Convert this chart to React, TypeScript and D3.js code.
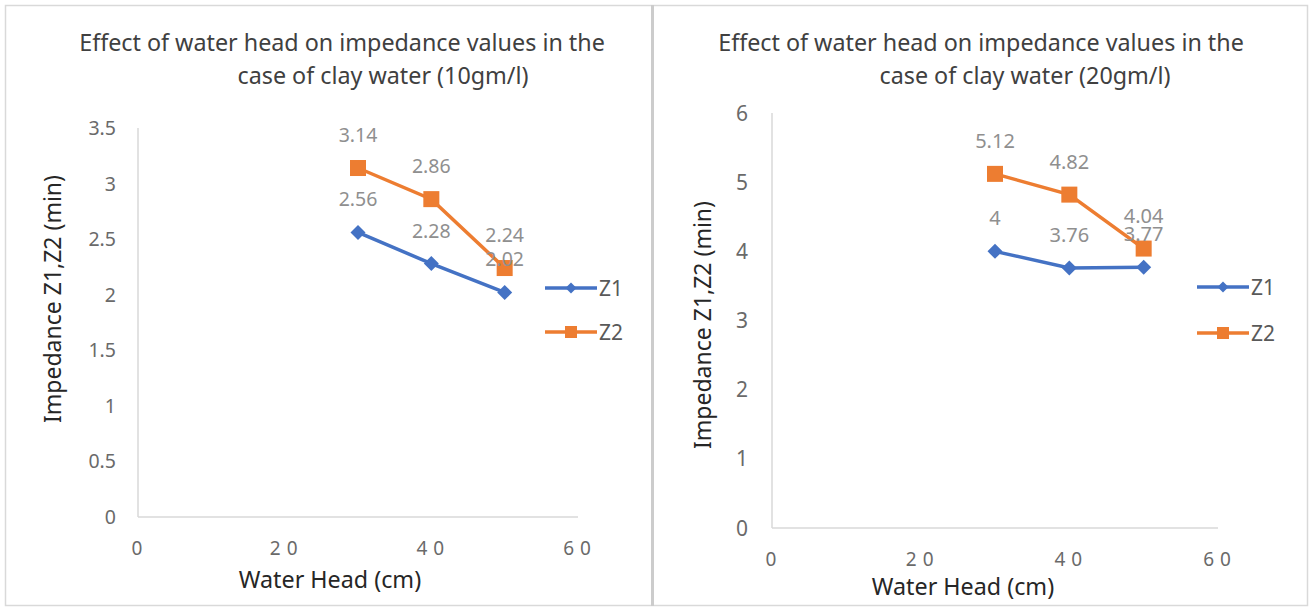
import React from "react";
import * as d3 from "d3";

const waterHead = [30, 40, 50];
const z1Clay10 = [2.56, 2.28, 2.02];
const z2Clay10 = [3.14, 2.86, 2.24];
const z1Clay20 = [4, 3.76, 3.77];
const z2Clay20 = [5.12, 4.82, 4.04];
const xTickValues = [0, 20, 40, 60];
const yTicksClay10 = [0, 0.5, 1, 1.5, 2, 2.5, 3, 3.5];
const yTicksClay20 = [0, 1, 2, 3, 4, 5, 6];
const seriesNames = ["Z1", "Z2"];
const titleClay10 = ["Effect of water head on impedance values in the", "case of clay water (10gm/l)"];
const titleClay20 = ["Effect of water head on impedance values in the", "case of clay water (20gm/l)"];
const xAxisTitle = "Water Head (cm)";
const yAxisTitle = "Impedance Z1,Z2 (min)";

const BLUE = "#4472C4";
const ORANGE = "#ED7D31";
const FONT = "'Noto Sans', 'Open Sans', sans-serif";

type PanelProps = {
  x0: number; x1: number; y0: number; y1: number;
  yMax: number; yTicks: number[];
  z1: number[]; z2: number[];
  title: string[];
  titleX: [number, number]; titleY: [number, number];
  yTitleX: number; yTitleY: number;
  xTitleX: number; xTitleY: number;
  xLabelY: number; yLabelX: number;
  tickFont: number; dataFont: number;
  legendX: number; legendY: [number, number];
};

function Panel(p: PanelProps) {
  const x = d3.scaleLinear().domain([0, 60]).range([p.x0, p.x1]);
  const y = d3.scaleLinear().domain([0, p.yMax]).range([p.y0, p.y1]);
  const line = d3.line<number>().x((_, i) => x(waterHead[i])).y((d) => y(d));
  const diamond = (cx: number, cy: number, r: number) =>
    `M${cx},${cy - r}L${cx + r},${cy}L${cx},${cy + r}L${cx - r},${cy}Z`;
  return (
    <g>
      {p.title.map((t, i) => (
        <text key={i} x={p.titleX[i]} y={p.titleY[i]} textAnchor="middle" fontSize={23.3} fill="#404040" fontFamily={FONT}>{t}</text>
      ))}
      <line x1={p.x0} x2={p.x0} y1={p.y0} y2={y(p.yMax)} stroke="#d9d9d9" strokeWidth={1.5} />
      <line x1={p.x0} x2={p.x1} y1={p.y0} y2={p.y0} stroke="#d9d9d9" strokeWidth={1.5} />
      {p.yTicks.map((t) => (
        <text key={t} x={p.yLabelX} y={y(t) + p.tickFont * 0.36} textAnchor="end" fontSize={p.tickFont} fill="#6a6a6a" fontFamily={FONT}>{t}</text>
      ))}
      {xTickValues.map((t) => (
        <text key={t} x={x(t) + 2} y={p.xLabelY} textAnchor="middle" fontSize={19} fill="#6a6a6a" fontFamily={FONT} letterSpacing={6}>{t}</text>
      ))}
      <text x={p.xTitleX} y={p.xTitleY} textAnchor="middle" fontSize={23.3} fill="#262626" fontFamily={FONT}>{xAxisTitle}</text>
      <text transform={`translate(${p.yTitleX},${p.yTitleY}) rotate(-90)`} textAnchor="middle" fontSize={23} fill="#262626" fontFamily={FONT}>{yAxisTitle}</text>
      <path d={line(p.z1) || ""} fill="none" stroke={BLUE} strokeWidth={3.5} />
      <path d={line(p.z2) || ""} fill="none" stroke={ORANGE} strokeWidth={3.5} />
      {p.z1.map((v, i) => (
        <path key={"d" + i} d={diamond(x(waterHead[i]), y(v), 7.5)} fill={BLUE} />
      ))}
      {p.z2.map((v, i) => (
        <rect key={"s" + i} x={x(waterHead[i]) - 8} y={y(v) - 8} width={16} height={16} fill={ORANGE} />
      ))}
      {p.z1.map((v, i) => (
        <text key={"l1" + i} x={x(waterHead[i])} y={y(v) - 26} textAnchor="middle" fontSize={p.dataFont} fill="#8f8f8f" fontFamily={FONT}>{v}</text>
      ))}
      {p.z2.map((v, i) => (
        <text key={"l2" + i} x={x(waterHead[i])} y={y(v) - 26} textAnchor="middle" fontSize={p.dataFont} fill="#8f8f8f" fontFamily={FONT}>{v}</text>
      ))}
      {seriesNames.map((n, i) => (
        <g key={n}>
          <line x1={p.legendX} x2={p.legendX + 52} y1={p.legendY[i]} y2={p.legendY[i]} stroke={i === 0 ? BLUE : ORANGE} strokeWidth={3.5} />
          {i === 0 ? (
            <path d={diamond(p.legendX + 26, p.legendY[i], 5.5)} fill={BLUE} />
          ) : (
            <rect x={p.legendX + 20} y={p.legendY[i] - 6} width={12} height={12} fill={ORANGE} />
          )}
          <text x={p.legendX + 54} y={p.legendY[i] + 7.5} fontSize={21} fill="#595959" fontFamily={FONT}>{n}</text>
        </g>
      ))}
    </g>
  );
}

export default function App() {
  return (
    <svg width={1313} height={610} style={{ position: "absolute", left: 0, top: 0, background: "#fff" }}>
      <rect x={0} y={0} width={1313} height={610} fill="#fff" />
      <rect x={5.5} y={5.5} width={1302} height={600} fill="none" stroke="#d9d9d9" strokeWidth={1.5} />
      <line x1={652.5} x2={652.5} y1={5} y2={606} stroke="#cccccc" strokeWidth={3} />
      <Panel
        x0={138} x1={578} y0={517} y1={128} yMax={3.5} yTicks={yTicksClay10}
        z1={z1Clay10} z2={z2Clay10} title={titleClay10}
        titleX={[342, 383]} titleY={[51, 84]}
        yTitleX={61} yTitleY={299} xTitleX={330} xTitleY={588}
        xLabelY={555} yLabelX={116} tickFont={19.5} dataFont={19.5}
        legendX={545} legendY={[288, 332]}
      />
      <Panel
        x0={772} x1={1218} y0={528} y1={113} yMax={6} yTicks={yTicksClay20}
        z1={z1Clay20} z2={z2Clay20} title={titleClay20}
        titleX={[981, 1025]} titleY={[51, 84]}
        yTitleX={711} yTitleY={325} xTitleX={963} xTitleY={595}
        xLabelY={566} yLabelX={748} tickFont={21} dataFont={20}
        legendX={1197} legendY={[287, 333]}
      />
    </svg>
  );
}
